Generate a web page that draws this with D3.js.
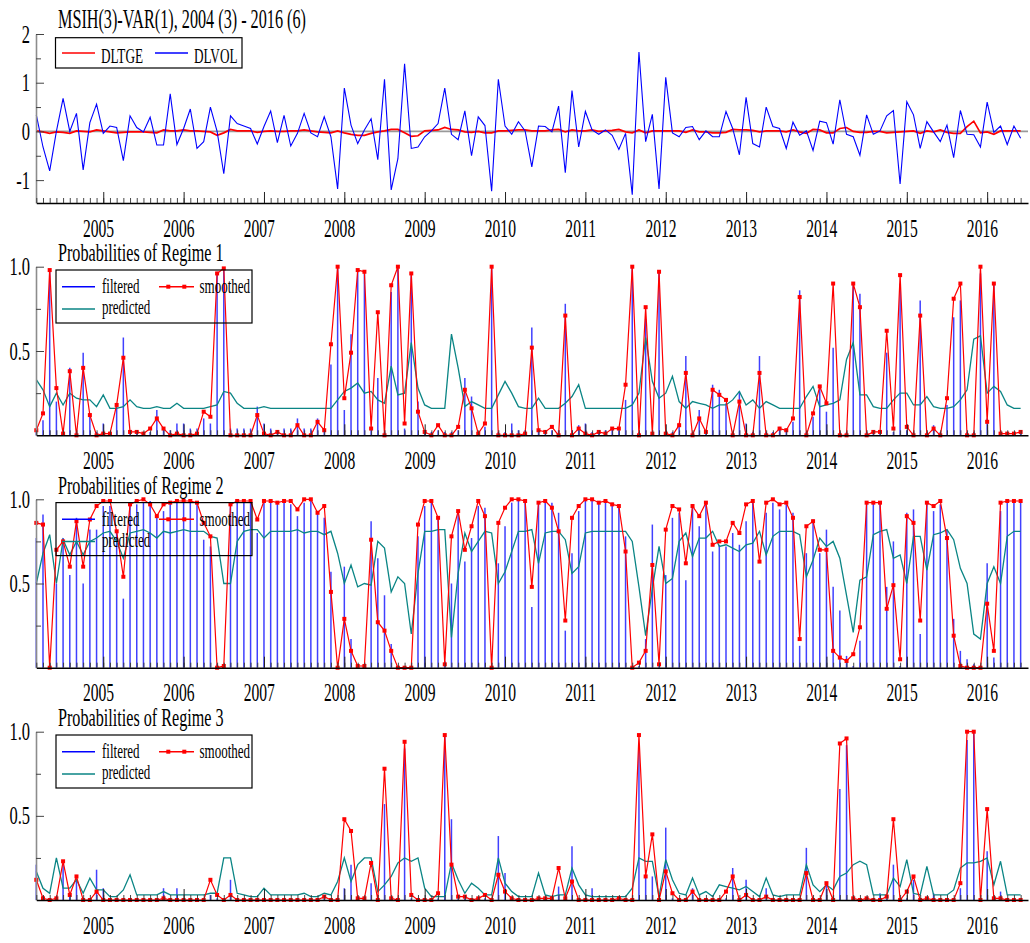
<!DOCTYPE html>
<html>
<head>
<meta charset="utf-8">
<script src="https://cdnjs.cloudflare.com/ajax/libs/d3/7.8.5/d3.min.js"></script>
<style>
  body { margin: 0; background: #fff; }
  svg { display: block; }
  text { font-family: "Liberation Serif", "Times New Roman", serif; fill: #000; }
</style>
</head>
<body>
<div id="chart"></div>
<script>

// sample: 2004 (3) - 2016 (6), monthly, one row per year
var startYear = 2004, startMonth = 3;
var years = d3.range(2005, 2017);

// DLTGE and DLVOL
var dltge = [
  0.01,-0.01,-0.04,-0.01,-0.02,-0.04,0.01,0.00,-0.01,0.03,
  0.01,-0.01,-0.03,-0.02,-0.01,-0.01,-0.01,-0.02,-0.03,0.03,0.01,0.01,
  0.03,0.01,0.01,0.00,-0.01,-0.08,-0.03,0.04,0.01,0.01,0.01,-0.02,
  0.00,0.01,0.00,0.00,0.01,0.01,0.03,0.01,-0.01,-0.02,-0.03,0.01,
  -0.03,-0.06,-0.08,-0.08,-0.04,-0.01,0.01,0.04,0.04,-0.03,-0.10,-0.09,
  0.01,0.02,0.03,0.08,0.04,0.03,-0.01,-0.02,0.00,-0.03,-0.03,0.01,
  0.01,0.02,0.03,0.03,0.01,0.01,0.01,0.03,0.04,-0.01,0.03,0.01,
  0.01,0.03,0.00,0.01,0.02,0.04,-0.01,-0.03,0.03,-0.03,0.01,0.01,
  0.01,0.01,0.01,-0.02,0.03,-0.01,-0.01,-0.03,-0.03,-0.02,0.04,0.03,
  0.03,0.02,-0.01,0.01,0.01,0.01,-0.01,0.03,-0.01,-0.04,0.04,0.03,
  -0.03,-0.03,0.06,0.08,0.00,-0.02,-0.02,0.00,0.00,-0.03,-0.02,-0.01,
  0.00,0.01,-0.04,0.01,-0.01,0.03,-0.02,-0.04,-0.04,0.10,0.21,-0.03,
  -0.01,-0.06,0.01,0.01,0.01,0.01
];
var dlvol = [
  0.34,-0.32,-0.81,0.00,0.68,0.00,0.37,-0.79,0.18,0.56,
  -0.04,0.11,0.08,-0.60,0.32,0.08,-0.01,0.29,-0.28,-0.28,0.77,-0.27,
  0.06,0.46,-0.35,-0.21,0.50,0.00,-0.87,0.32,0.16,0.11,0.06,-0.26,
  0.10,0.42,-0.23,0.33,-0.30,-0.04,0.37,-0.03,-0.11,0.30,-0.11,-1.18,
  0.89,0.13,-0.25,0.03,0.26,-0.58,1.07,-1.20,-0.56,1.39,-0.35,-0.32,
  -0.11,0.01,0.16,0.89,-0.06,-0.17,0.42,-0.50,0.30,0.12,-1.23,1.07,
  0.11,-0.06,0.20,0.01,-0.73,0.11,0.10,-0.01,0.52,-0.85,0.84,-0.32,
  0.41,0.03,-0.06,0.03,-0.08,-0.37,-0.04,-1.30,1.63,-0.21,0.35,-1.18,
  1.11,-0.03,-0.11,0.08,0.10,-0.17,0.01,-0.11,-0.11,0.41,0.06,-0.48,
  0.70,-0.25,-0.32,0.50,0.10,0.06,-0.35,0.19,-0.08,0.01,-0.39,0.21,
  0.18,-0.26,0.65,-0.06,-0.11,-0.49,0.34,-0.06,0.01,0.32,0.43,-1.08,
  0.61,0.34,-0.35,0.20,-0.01,-0.21,0.13,-0.54,0.43,-0.06,-0.07,-0.32,
  0.60,-0.02,0.11,-0.27,0.11,-0.14
];

// Regime 1
var r1Filtered = [
  0.02,0.09,0.98,0.20,0.02,0.40,0.02,0.49,0.12,0.02,
  0.07,0.02,0.17,0.58,0.02,0.02,0.02,0.02,0.15,0.04,0.03,0.07,
  0.07,0.04,0.04,0.10,0.07,0.97,0.99,0.04,0.04,0.04,0.04,0.17,
  0.07,0.04,0.03,0.04,0.04,0.10,0.04,0.04,0.10,0.02,0.42,1.00,
  0.15,0.60,0.98,0.97,0.04,0.34,0.02,0.85,1.00,0.04,0.95,0.20,
  0.02,0.02,0.03,0.02,0.02,0.03,0.34,0.23,0.02,0.05,1.00,0.02,
  0.02,0.07,0.03,0.03,0.64,0.03,0.02,0.03,0.03,0.78,0.03,0.06,
  0.07,0.02,0.03,0.03,0.04,0.03,0.21,1.00,0.02,0.69,0.02,0.97,
  0.02,0.02,0.05,0.47,0.02,0.15,0.02,0.30,0.27,0.19,0.02,0.26,
  0.07,0.02,0.47,0.02,0.02,0.05,0.04,0.08,0.86,0.02,0.11,0.28,
  0.14,0.52,0.02,0.02,0.90,0.84,0.02,0.02,0.02,0.49,0.02,0.90,
  0.03,0.02,0.80,0.02,0.06,0.02,0.18,0.70,0.80,0.02,0.02,0.96,
  0.10,0.90,0.02,0.02,0.02,0.02
];
var r1Smoothed = [
  0.03,0.13,0.98,0.28,0.01,0.38,0.00,0.40,0.12,0.00,
  0.01,0.01,0.18,0.46,0.02,0.02,0.01,0.04,0.10,0.04,0.00,0.01,
  0.00,0.00,0.01,0.14,0.11,0.96,0.99,0.00,0.00,0.00,0.00,0.12,
  0.01,0.00,0.02,0.00,0.00,0.06,0.00,0.00,0.08,0.03,0.54,1.00,
  0.22,0.49,0.98,0.97,0.04,0.73,0.00,0.89,1.00,0.07,0.96,0.14,
  0.02,0.00,0.06,0.00,0.00,0.05,0.27,0.16,0.01,0.07,1.00,0.00,
  0.00,0.00,0.00,0.01,0.52,0.03,0.02,0.05,0.00,0.71,0.00,0.04,
  0.01,0.00,0.02,0.01,0.04,0.04,0.30,1.00,0.00,0.76,0.01,0.97,
  0.01,0.00,0.06,0.37,0.00,0.10,0.02,0.27,0.24,0.21,0.00,0.20,
  0.00,0.00,0.37,0.00,0.00,0.04,0.03,0.10,0.82,0.00,0.13,0.29,
  0.19,0.90,0.00,0.00,0.90,0.76,0.00,0.02,0.02,0.62,0.04,0.95,
  0.05,0.00,0.71,0.00,0.04,0.00,0.22,0.81,0.90,0.00,0.00,1.00,
  0.08,0.90,0.01,0.01,0.01,0.02
];
var r1Predicted = [
  0.33,0.27,0.17,0.25,0.18,0.25,0.22,0.21,0.21,0.17,
  0.24,0.16,0.16,0.17,0.21,0.17,0.16,0.16,0.17,0.16,0.16,0.19,
  0.16,0.16,0.16,0.16,0.17,0.18,0.26,0.25,0.19,0.16,0.16,0.16,
  0.17,0.16,0.16,0.16,0.16,0.16,0.16,0.16,0.16,0.16,0.16,0.21,
  0.26,0.28,0.31,0.25,0.26,0.21,0.19,0.41,0.24,0.25,0.55,0.28,
  0.18,0.16,0.16,0.16,0.60,0.40,0.17,0.20,0.18,0.16,0.16,0.24,
  0.32,0.25,0.17,0.16,0.16,0.22,0.16,0.16,0.16,0.19,0.23,0.30,
  0.16,0.16,0.16,0.16,0.16,0.16,0.16,0.18,0.25,0.58,0.32,0.22,
  0.25,0.35,0.20,0.16,0.20,0.19,0.18,0.16,0.18,0.18,0.21,0.26,
  0.18,0.21,0.16,0.20,0.18,0.16,0.16,0.16,0.16,0.23,0.29,0.17,
  0.18,0.19,0.21,0.45,0.55,0.24,0.24,0.17,0.16,0.16,0.21,0.25,
  0.25,0.18,0.18,0.23,0.17,0.16,0.16,0.17,0.21,0.27,0.57,0.59,
  0.25,0.29,0.26,0.18,0.16,0.16
];

// Regime 2
var r2Filtered = [
  0.77,0.91,0.02,0.50,0.77,0.55,0.89,0.50,0.82,0.82,
  0.96,0.96,0.80,0.41,0.98,0.97,0.98,0.99,0.90,0.93,0.99,0.98,
  0.99,0.99,0.98,0.76,0.72,0.02,0.01,0.96,0.99,0.99,0.98,0.80,
  0.98,0.99,0.98,0.99,0.97,0.90,0.98,0.99,0.93,0.89,0.57,0.01,
  0.60,0.17,0.02,0.01,0.87,0.65,0.43,0.14,0.00,0.00,0.01,0.78,
  0.96,0.99,0.88,0.04,0.50,0.92,0.63,0.77,0.96,0.95,0.00,0.62,
  0.84,0.98,0.99,0.98,0.36,0.98,0.99,0.98,0.92,0.22,0.68,0.93,
  1.00,1.00,0.99,0.99,0.98,0.97,0.78,0.00,0.01,0.17,0.85,0.01,
  0.55,0.89,0.92,0.52,0.97,0.84,0.98,0.69,0.73,0.72,0.80,0.73,
  0.87,0.99,0.52,0.92,0.98,0.94,0.97,0.92,0.13,0.68,0.88,0.68,
  0.82,0.48,0.34,0.07,0.01,0.16,0.98,0.98,0.98,0.48,0.75,0.01,
  0.92,0.94,0.20,0.98,0.93,0.97,0.82,0.29,0.10,0.05,0.02,0.01,
  0.62,0.06,0.93,0.98,0.98,0.98
];
var r2Smoothed = [
  0.86,0.85,0.00,0.70,0.75,0.60,0.87,0.60,0.88,0.96,
  0.99,0.99,0.81,0.54,0.97,0.99,1.00,0.97,0.90,0.97,0.98,0.99,
  0.99,0.99,0.98,0.86,0.78,0.00,0.01,0.97,0.99,0.99,0.99,0.88,
  0.99,0.99,0.98,0.99,0.99,0.94,1.00,1.00,0.92,0.96,0.45,0.00,
  0.29,0.10,0.01,0.01,0.76,0.27,0.22,0.10,0.00,0.00,0.00,0.85,
  0.99,0.99,0.89,0.02,0.78,0.93,0.70,0.84,0.99,0.90,0.00,0.86,
  0.95,1.00,1.00,0.99,0.48,0.98,0.99,0.95,0.81,0.28,0.89,0.96,
  1.00,1.00,0.98,0.99,0.97,0.96,0.69,0.00,0.03,0.10,0.61,0.02,
  0.82,0.96,0.94,0.62,0.96,0.90,0.98,0.73,0.75,0.75,0.86,0.80,
  0.97,0.99,0.63,0.98,1.00,0.97,0.98,0.89,0.17,0.84,0.87,0.70,
  0.70,0.10,0.06,0.04,0.08,0.24,0.98,0.98,0.98,0.35,0.49,0.05,
  0.90,0.86,0.28,0.98,0.96,0.99,0.77,0.19,0.01,0.00,0.00,0.00,
  0.38,0.10,0.98,0.99,0.99,0.99
];
var r2Predicted = [
  0.50,0.68,0.79,0.50,0.76,0.67,0.75,0.67,0.75,0.77,
  0.80,0.81,0.75,0.65,0.80,0.81,0.82,0.80,0.77,0.81,0.80,0.81,
  0.82,0.81,0.81,0.81,0.78,0.77,0.50,0.50,0.75,0.81,0.82,0.82,
  0.77,0.81,0.81,0.81,0.81,0.82,0.80,0.81,0.81,0.79,0.81,0.68,
  0.50,0.61,0.48,0.50,0.49,0.75,0.71,0.45,0.54,0.50,0.20,0.56,
  0.81,0.81,0.82,0.82,0.18,0.56,0.80,0.69,0.75,0.81,0.80,0.50,
  0.57,0.69,0.81,0.81,0.82,0.62,0.80,0.81,0.81,0.76,0.56,0.60,
  0.80,0.81,0.81,0.81,0.81,0.81,0.81,0.75,0.48,0.19,0.47,0.72,
  0.50,0.53,0.75,0.80,0.66,0.77,0.77,0.81,0.72,0.73,0.71,0.69,
  0.73,0.74,0.81,0.67,0.78,0.81,0.81,0.81,0.79,0.54,0.64,0.77,
  0.72,0.75,0.65,0.43,0.21,0.52,0.54,0.79,0.81,0.82,0.65,0.67,
  0.50,0.78,0.78,0.58,0.79,0.80,0.82,0.76,0.59,0.50,0.20,0.17,
  0.50,0.60,0.50,0.78,0.81,0.81
];

// Regime 3
var r3Filtered = [
  0.21,0.02,0.01,0.01,0.21,0.02,0.12,0.01,0.01,0.18,
  0.07,0.01,0.01,0.01,0.01,0.01,0.01,0.01,0.01,0.07,0.01,0.07,
  0.01,0.01,0.01,0.01,0.03,0.01,0.01,0.12,0.01,0.01,0.01,0.01,
  0.01,0.01,0.01,0.01,0.01,0.01,0.01,0.01,0.01,0.01,0.01,0.01,
  0.07,0.21,0.01,0.01,0.10,0.01,0.57,0.01,0.01,0.90,0.01,0.01,
  0.01,0.01,0.01,0.97,0.48,0.01,0.01,0.01,0.01,0.01,0.01,0.38,
  0.16,0.01,0.01,0.01,0.01,0.01,0.01,0.01,0.08,0.01,0.32,0.01,
  0.01,0.07,0.01,0.01,0.01,0.01,0.01,0.01,0.90,0.14,0.14,0.01,
  0.43,0.01,0.01,0.01,0.07,0.01,0.01,0.01,0.01,0.01,0.19,0.01,
  0.12,0.01,0.01,0.07,0.01,0.01,0.01,0.01,0.01,0.31,0.01,0.01,
  0.09,0.01,0.66,0.92,0.01,0.01,0.01,0.01,0.04,0.01,0.21,0.01,
  0.01,0.12,0.01,0.01,0.04,0.01,0.01,0.01,0.07,0.95,1.00,0.01,
  0.29,0.01,0.05,0.01,0.01,0.01
];
var r3Smoothed = [
  0.12,0.01,0.00,0.01,0.23,0.03,0.14,0.00,0.00,0.05,
  0.00,0.00,0.00,0.00,0.00,0.00,0.00,0.00,0.00,0.01,0.00,0.00,
  0.00,0.00,0.00,0.00,0.12,0.03,0.00,0.03,0.00,0.00,0.00,0.00,
  0.00,0.00,0.00,0.00,0.00,0.00,0.00,0.00,0.00,0.02,0.00,0.00,
  0.48,0.41,0.01,0.01,0.22,0.00,0.78,0.01,0.00,0.94,0.03,0.00,
  0.00,0.00,0.04,0.98,0.21,0.02,0.02,0.00,0.01,0.03,0.00,0.15,
  0.05,0.01,0.00,0.00,0.00,0.01,0.01,0.01,0.19,0.01,0.11,0.00,
  0.00,0.00,0.00,0.00,0.00,0.01,0.00,0.00,0.98,0.14,0.39,0.00,
  0.17,0.04,0.00,0.00,0.05,0.00,0.00,0.00,0.00,0.05,0.14,0.00,
  0.03,0.00,0.00,0.02,0.00,0.00,0.00,0.00,0.00,0.16,0.00,0.00,
  0.10,0.00,0.93,0.96,0.01,0.00,0.01,0.00,0.00,0.02,0.48,0.00,
  0.05,0.14,0.00,0.01,0.00,0.00,0.00,0.00,0.10,1.00,1.00,0.00,
  0.54,0.01,0.01,0.00,0.00,0.00
];
var r3Predicted = [
  0.17,0.07,0.04,0.25,0.07,0.07,0.12,0.04,0.13,0.06,
  0.06,0.02,0.02,0.06,0.15,0.03,0.03,0.03,0.03,0.05,0.03,0.03,
  0.03,0.03,0.03,0.03,0.04,0.04,0.25,0.25,0.04,0.03,0.02,0.02,
  0.07,0.03,0.03,0.03,0.03,0.03,0.04,0.02,0.02,0.04,0.03,0.11,
  0.25,0.11,0.21,0.25,0.25,0.05,0.09,0.14,0.22,0.25,0.23,0.25,
  0.07,0.02,0.02,0.02,0.22,0.12,0.04,0.10,0.07,0.03,0.03,0.25,
  0.10,0.05,0.02,0.02,0.02,0.16,0.03,0.02,0.03,0.03,0.19,0.09,
  0.03,0.02,0.02,0.02,0.02,0.02,0.02,0.07,0.25,0.23,0.23,0.02,
  0.24,0.12,0.04,0.03,0.13,0.03,0.05,0.02,0.09,0.08,0.07,0.06,
  0.08,0.05,0.02,0.13,0.03,0.02,0.03,0.03,0.03,0.21,0.09,0.05,
  0.09,0.06,0.14,0.16,0.21,0.23,0.21,0.03,0.03,0.03,0.13,0.08,
  0.24,0.04,0.03,0.20,0.03,0.03,0.03,0.06,0.19,0.22,0.22,0.23,
  0.25,0.09,0.23,0.03,0.03,0.03
];

var mainTitle = "MSIH(3)-VAR(1), 2004 (3) - 2016 (6)";
var regimeTitles = ["Probabilities of Regime 1", "Probabilities of Regime 2", "Probabilities of Regime 3"];
var seriesNames = ["DLTGE", "DLVOL"];
var probNames = ["filtered", "smoothed", "predicted"];
var valueTicks = [-1, 0, 1, 2];
var probTicks = [0.5, 1.0];

// ---------------------------------------------------------------

var W = 1030, H = 943;
var red = "#ff0000", blue = "#0000ff", teal = "#0a8585", axisGray = "#8c8c8c";
var spikeBlue = "#4040ff";

var svg = d3.select("#chart").append("svg")
  .attr("width", W).attr("height", H);

var n = dltge.length;
var months = d3.range(n);
// month index of January of each labelled year
var yearIdx = years.map(function(y) { return (y - startYear) * 12 + (1 - startMonth); });

var x = d3.scaleLinear().domain([0, 148.1]).range([36.3, 1028]);

// squeezed serif text, like the original export
function label(g, s, px, py, size, sx, anchor) {
  return g.append("text")
    .attr("transform", "translate(" + px + "," + py + ") scale(" + sx + ",1)")
    .attr("font-size", size)
    .attr("text-anchor", anchor || "start")
    .text(s);
}

function bottomAxis(g, yPos) {
  var minor = d3.axisBottom(x).tickValues(months).tickSize(-5).tickSizeOuter(0).tickFormat("");
  var major = d3.axisBottom(x).tickValues(yearIdx).tickSize(-11).tickSizeOuter(0).tickFormat("");
  var a = g.append("g").attr("transform", "translate(0," + yPos + ")").call(minor);
  a.selectAll(".tick line").attr("stroke", "#333").attr("stroke-width", 0.9);
  a.select(".domain").attr("stroke", "#000").attr("stroke-width", 1.6);
  var b = g.append("g").attr("transform", "translate(0," + yPos + ")").call(major);
  b.selectAll(".tick line").attr("stroke", "#222").attr("stroke-width", 1);
  b.select(".domain").remove();
  yearIdx.forEach(function(t, k) {
    label(g, String(years[k]), x(t) - 4.7, yPos + 33.5, 26, 0.6, "middle");
  });
}

function leftAxis(g, y, majors, minors, fmt) {
  var x0 = x.range()[0] - 0.3;
  var a = g.append("g").attr("transform", "translate(" + x0 + ",0)")
    .call(d3.axisRight(y).tickValues(majors).tickSize(8).tickSizeOuter(0).tickFormat(""));
  a.select(".domain").attr("stroke", axisGray).attr("stroke-width", 1.6);
  a.selectAll(".tick line").attr("stroke", "#444");
  var b = g.append("g").attr("transform", "translate(" + x0 + ",0)")
    .call(d3.axisRight(y).tickValues(minors).tickSize(5).tickSizeOuter(0).tickFormat(""));
  b.select(".domain").remove();
  b.selectAll(".tick line").attr("stroke", "#444");
  majors.forEach(function(v) {
    label(g, fmt(v), 30, y(v) + 8.5, 25, 0.66, "end");
  });
}

// ---------- panel 1: the data ----------
(function() {
  var g = svg.append("g");
  var y = d3.scaleLinear().domain([-1.47, 2]).range([203, 34]);

  label(g, mainTitle, 58, 28, 27, 0.6);

  g.append("line")
    .attr("x1", x.range()[0]).attr("x2", x.range()[1])
    .attr("y1", y(0)).attr("y2", y(0))
    .attr("stroke", "#999").attr("stroke-width", 1.6);

  var line = function(arr) {
    return d3.line().x(function(d, i) { return x(i); }).y(function(d) { return y(d); })(arr);
  };
  g.append("path").attr("d", line(dltge)).attr("fill", "none")
    .attr("stroke", red).attr("stroke-width", 1.7);
  g.append("path").attr("d", line(dlvol)).attr("fill", "none")
    .attr("stroke", blue).attr("stroke-width", 1.1);

  leftAxis(g, y, valueTicks, [-0.5, 0.5, 1.5], function(v) { return String(v); });
  bottomAxis(g, 203);

  // legend
  var top = y(2);
  g.append("rect").attr("x", 55.5).attr("y", top + 3.7).attr("width", 186.5).attr("height", 30.3)
    .attr("fill", "none").attr("stroke", "#000").attr("stroke-width", 1.2);
  g.append("line").attr("x1", 62).attr("x2", 95).attr("y1", top + 19).attr("y2", top + 19)
    .attr("stroke", red).attr("stroke-width", 1.5);
  label(g, seriesNames[0], 101, top + 28.7, 22, 0.6);
  g.append("line").attr("x1", 155).attr("x2", 188).attr("y1", top + 19).attr("y2", top + 19)
    .attr("stroke", blue).attr("stroke-width", 1.5);
  label(g, seriesNames[1], 194, top + 28.7, 22, 0.6);
})();

// ---------- panels 2-4: regime probabilities ----------
var regimes = [
  { title: regimeTitles[0], f: r1Filtered, s: r1Smoothed, p: r1Predicted, top: 266.7, bottom: 435.3 },
  { title: regimeTitles[1], f: r2Filtered, s: r2Smoothed, p: r2Predicted, top: 499.3, bottom: 667.7 },
  { title: regimeTitles[2], f: r3Filtered, s: r3Smoothed, p: r3Predicted, top: 731.7, bottom: 900 }
];

regimes.forEach(function(r) {
  var g = svg.append("g");
  var y = d3.scaleLinear().domain([0, 1]).range([r.bottom, r.top]);

  label(g, r.title, 58, r.top - 5.5, 24.5, 0.66);

  // filtered as needles
  g.append("g").selectAll("line").data(r.f).enter().append("line")
    .attr("x1", function(d, i) { return x(i); })
    .attr("x2", function(d, i) { return x(i); })
    .attr("y1", y(0))
    .attr("y2", function(d) { return y(d); })
    .attr("stroke", spikeBlue).attr("stroke-width", 1.5);

  var line = d3.line().x(function(d, i) { return x(i); }).y(function(d) { return y(d); });

  g.append("path").attr("d", line(r.p)).attr("fill", "none")
    .attr("stroke", teal).attr("stroke-width", 1.3);

  g.append("path").attr("d", line(r.s)).attr("fill", "none")
    .attr("stroke", red).attr("stroke-width", 1.2);
  g.append("g").selectAll("rect").data(r.s).enter().append("rect")
    .attr("x", function(d, i) { return x(i) - 2; })
    .attr("y", function(d) { return y(d) - 2; })
    .attr("width", 4).attr("height", 4)
    .attr("fill", red);

  leftAxis(g, y, probTicks, [0.25, 0.75], function(v) { return v.toFixed(1); });
  bottomAxis(g, r.bottom);

  // legend (transparent box)
  var t = r.top;
  g.append("rect").attr("x", 56).attr("y", t + 3.3).attr("width", 196).attr("height", 53)
    .attr("fill", "none").attr("stroke", "#000").attr("stroke-width", 1.2);
  g.append("line").attr("x1", 62).attr("x2", 95).attr("y1", t + 20).attr("y2", t + 20)
    .attr("stroke", blue).attr("stroke-width", 1.5);
  label(g, probNames[0], 102, t + 26.6, 20, 0.65);
  g.append("line").attr("x1", 159).attr("x2", 194).attr("y1", t + 20).attr("y2", t + 20)
    .attr("stroke", red).attr("stroke-width", 1.5);
  [168.3, 184.3].forEach(function(mx) {
    g.append("rect").attr("x", mx - 2).attr("y", t + 18).attr("width", 4).attr("height", 4).attr("fill", red);
  });
  label(g, probNames[1], 199.5, t + 26.6, 20, 0.65);
  g.append("line").attr("x1", 62).attr("x2", 95).attr("y1", t + 42.3).attr("y2", t + 42.3)
    .attr("stroke", teal).attr("stroke-width", 1.5);
  label(g, probNames[2], 102, t + 47.3, 20, 0.65);
});

</script>
</body>
</html>
